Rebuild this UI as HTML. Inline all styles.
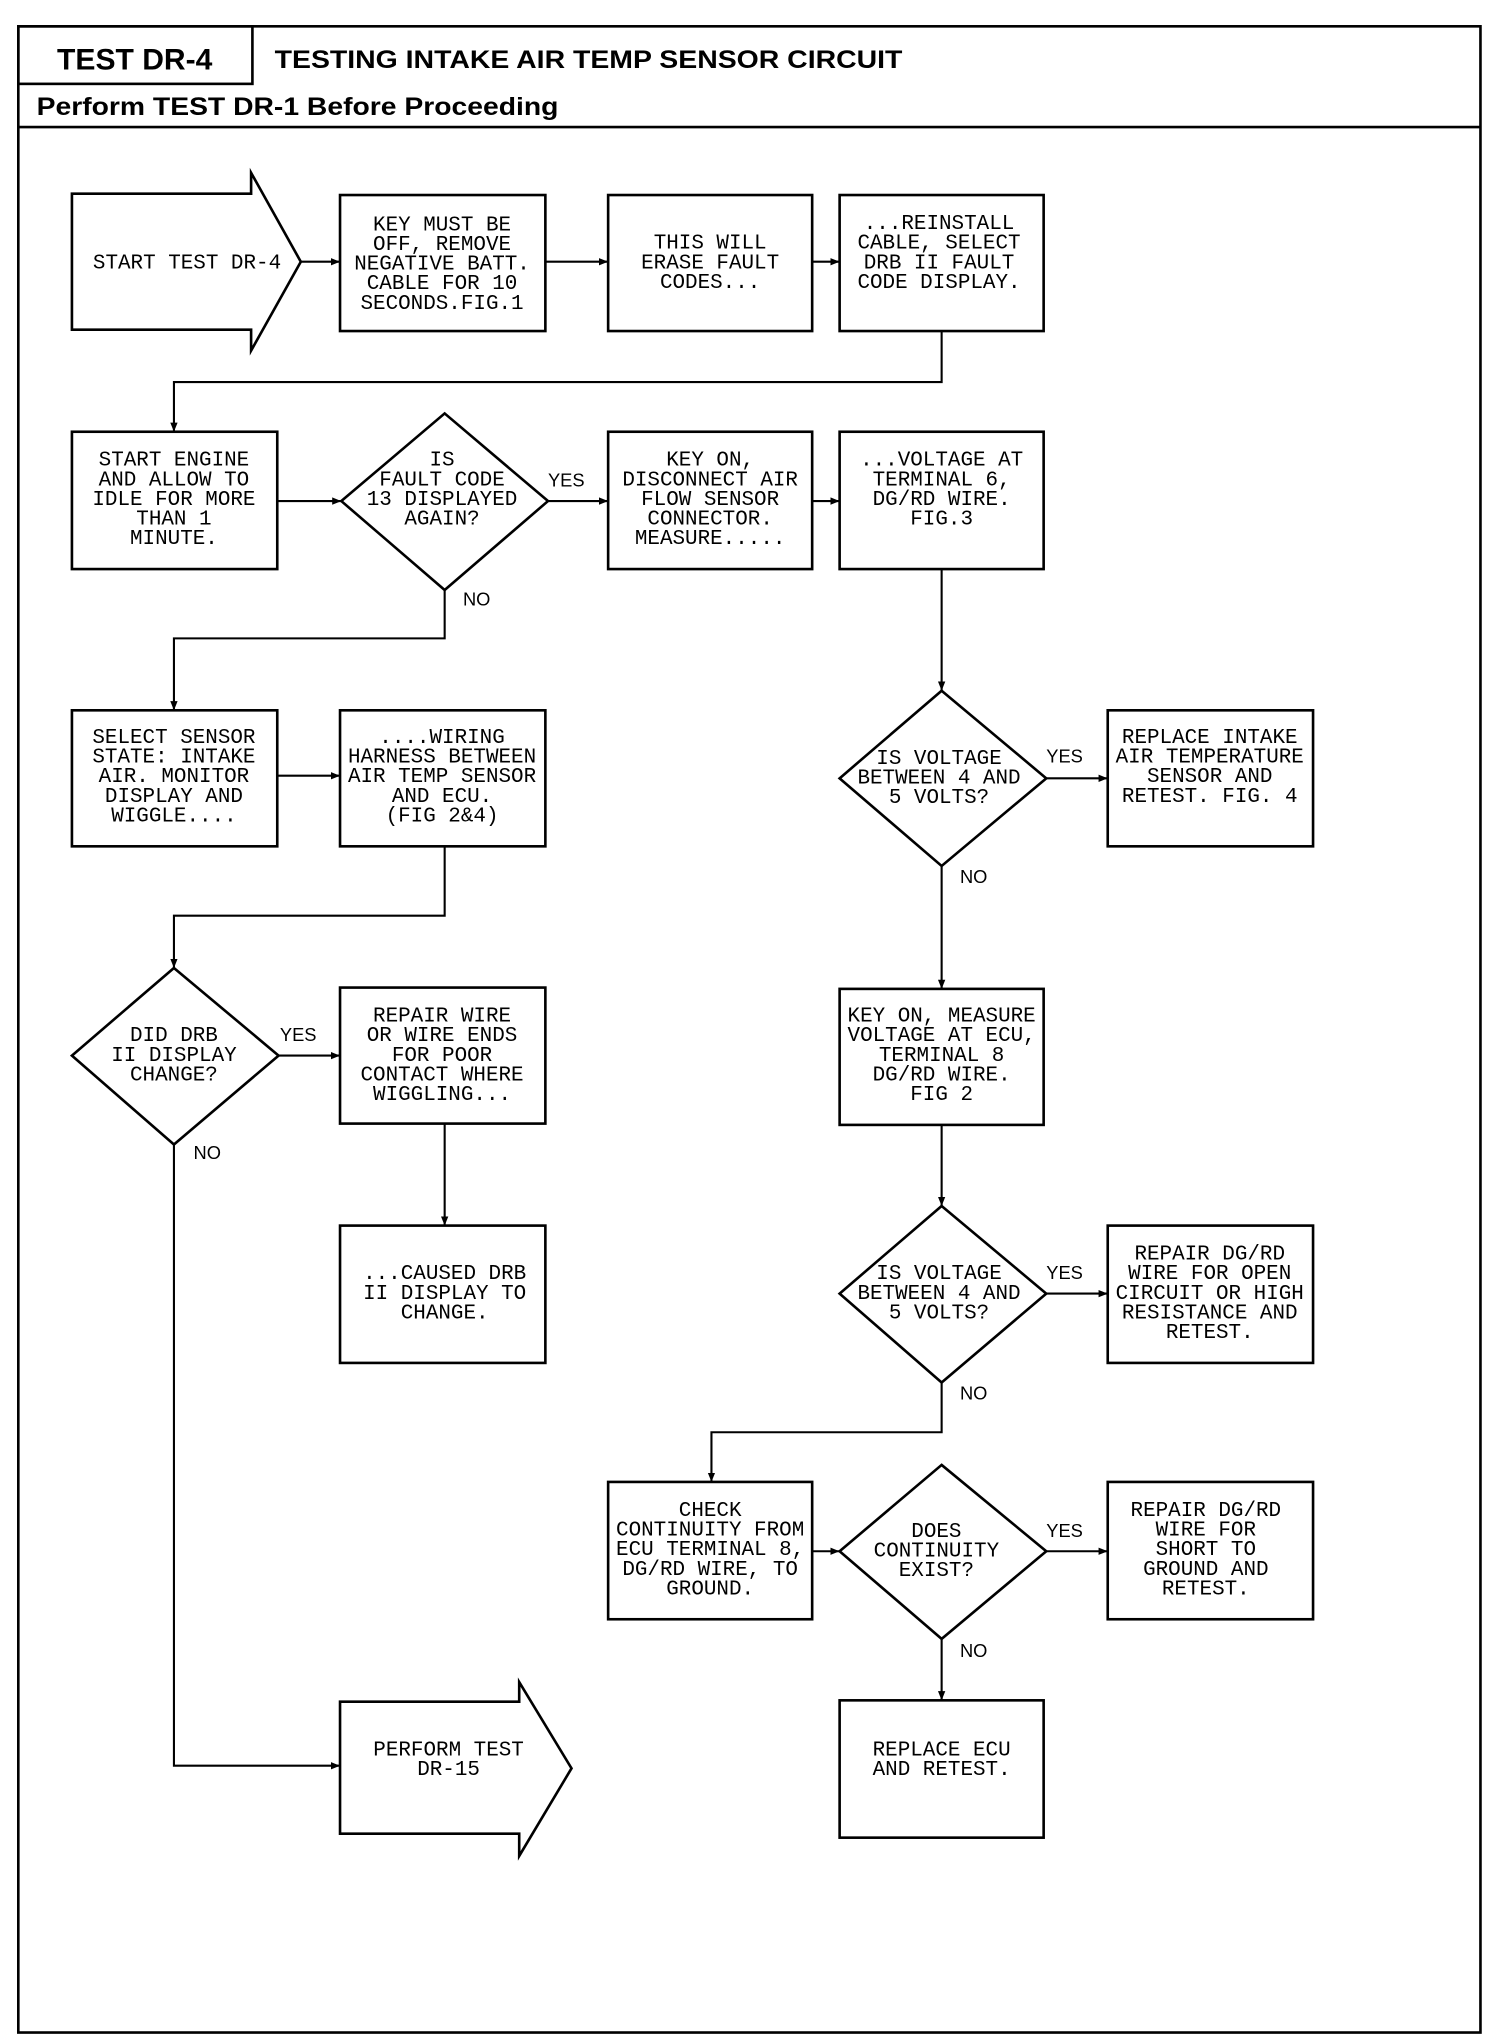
<!DOCTYPE html>
<html><head><meta charset="utf-8"><style>
html,body{margin:0;padding:0;background:#fff}
svg{display:block}
.t{font-family:"Liberation Mono",monospace;font-size:16px;text-anchor:middle;fill:#000}
.l{font-family:"Liberation Sans",sans-serif;font-size:14px;fill:#000}
</style></head><body>
<svg width="1504" height="2034" viewBox="0 0 1150 1555" xmlns="http://www.w3.org/2000/svg">
<defs><marker id="a" viewBox="0 0 10 10" refX="10" refY="5" markerWidth="7" markerHeight="7" orient="auto" markerUnits="userSpaceOnUse"><path d="M0,1 L10,5 L0,9 z" fill="#000"/></marker></defs>
<g fill="none" stroke="#000" stroke-width="2">
<rect x="14" y="20" width="1118" height="1534"/>
<line x1="14" y1="97" x2="1132" y2="97"/>
<rect x="14" y="20" width="179" height="44"/>
</g>
<text x="103" y="53" font-family="Liberation Sans" font-weight="bold" font-size="23" text-anchor="middle">TEST DR-4</text>
<text x="210" y="52" font-family="Liberation Sans" font-weight="bold" font-size="19" textLength="480" lengthAdjust="spacingAndGlyphs">TESTING INTAKE AIR TEMP SENSOR CIRCUIT</text>
<text x="28" y="88" font-family="Liberation Sans" font-weight="bold" font-size="19" textLength="399" lengthAdjust="spacingAndGlyphs">Perform TEST DR-1 Before Proceeding</text>

<g fill="none" stroke="#000" stroke-width="2">
<path d="M55,148 L192,148 L192,132 L230,200 L192,268 L192,252 L55,252 Z"/>
<rect x="260" y="149" width="157" height="104"/>
<rect x="465" y="149" width="156" height="104"/>
<rect x="642" y="149" width="156" height="104"/>
<rect x="55" y="330" width="157" height="105"/>
<path d="M340,316 L419,383 L340,451 L261,383 Z"/>
<rect x="465" y="330" width="156" height="105"/>
<rect x="642" y="330" width="156" height="105"/>
<rect x="55" y="543" width="157" height="104"/>
<rect x="260" y="543" width="157" height="104"/>
<path d="M133,740 L213,807 L133,875 L55,807 Z"/>
<rect x="260" y="755" width="157" height="104"/>
<rect x="260" y="937" width="157" height="105"/>
<path d="M260,1301 L397,1301 L397,1286 L437,1352 L397,1419 L397,1402 L260,1402 Z"/>
<path d="M720,528 L800,595 L720,662 L642,595 Z"/>
<rect x="847" y="543" width="157" height="104"/>
<rect x="642" y="756" width="156" height="104"/>
<path d="M720,922 L800,989 L720,1057 L642,989 Z"/>
<rect x="847" y="937" width="157" height="105"/>
<rect x="465" y="1133" width="156" height="105"/>
<path d="M720,1120 L800,1186 L720,1253 L642,1186 Z"/>
<rect x="847" y="1133" width="157" height="105"/>
<rect x="642" y="1300" width="156" height="105"/>
</g>
<g fill="none" stroke="#000" stroke-width="1.6" marker-end="url(#a)">
<path d="M230,200 L260,200"/>
<path d="M417,200 L465,200"/>
<path d="M621,200 L642,200"/>
<path d="M720,253 L720,292 L133,292 L133,330"/>
<path d="M212,383 L261,383"/>
<path d="M419,383 L465,383"/>
<path d="M621,383 L642,383"/>
<path d="M340,451 L340,488 L133,488 L133,543"/>
<path d="M212,593 L260,593"/>
<path d="M340,647 L340,700 L133,700 L133,740"/>
<path d="M213,807 L260,807"/>
<path d="M340,859 L340,937"/>
<path d="M133,875 L133,1350 L260,1350"/>
<path d="M720,435 L720,528"/>
<path d="M800,595 L847,595"/>
<path d="M720,662 L720,756"/>
<path d="M720,860 L720,922"/>
<path d="M800,989 L847,989"/>
<path d="M720,1057 L720,1095 L544,1095 L544,1133"/>
<path d="M621,1186 L642,1186"/>
<path d="M800,1186 L847,1186"/>
<path d="M720,1253 L720,1300"/>
</g>
<g class="l">
<text x="419" y="372">YES</text><text x="354" y="463">NO</text>
<text x="214" y="796">YES</text><text x="148" y="886">NO</text>
<text x="800" y="583">YES</text><text x="734" y="675">NO</text>
<text x="800" y="978">YES</text><text x="734" y="1070">NO</text>
<text x="800" y="1175">YES</text><text x="734" y="1267">NO</text>
</g>
<g class="t">
<text x="143" y="205">START TEST DR-4</text>
<text x="338" y="176">KEY MUST BE<tspan x="338" dy="15">OFF, REMOVE</tspan><tspan x="338" dy="15">NEGATIVE BATT.</tspan><tspan x="338" dy="15">CABLE FOR 10</tspan><tspan x="338" dy="15">SECONDS.FIG.1</tspan></text>
<text x="543" y="190">THIS WILL<tspan x="543" dy="15">ERASE FAULT</tspan><tspan x="543" dy="15">CODES...</tspan></text>
<text x="718" y="175">...REINSTALL<tspan x="718" dy="15">CABLE, SELECT</tspan><tspan x="718" dy="15">DRB II FAULT</tspan><tspan x="718" dy="15">CODE DISPLAY.</tspan></text>
<text x="133" y="356">START ENGINE<tspan x="133" dy="15">AND ALLOW TO</tspan><tspan x="133" dy="15">IDLE FOR MORE</tspan><tspan x="133" dy="15">THAN 1</tspan><tspan x="133" dy="15">MINUTE.</tspan></text>
<text x="338" y="356">IS<tspan x="338" dy="15">FAULT CODE</tspan><tspan x="338" dy="15">13 DISPLAYED</tspan><tspan x="338" dy="15">AGAIN?</tspan></text>
<text x="543" y="356">KEY ON,<tspan x="543" dy="15">DISCONNECT AIR</tspan><tspan x="543" dy="15">FLOW SENSOR</tspan><tspan x="543" dy="15">CONNECTOR.</tspan><tspan x="543" dy="15">MEASURE.....</tspan></text>
<text x="720" y="356">...VOLTAGE AT<tspan x="720" dy="15">TERMINAL 6,</tspan><tspan x="720" dy="15">DG/RD WIRE.</tspan><tspan x="720" dy="15">FIG.3</tspan></text>
<text x="133" y="568">SELECT SENSOR<tspan x="133" dy="15">STATE: INTAKE</tspan><tspan x="133" dy="15">AIR. MONITOR</tspan><tspan x="133" dy="15">DISPLAY AND</tspan><tspan x="133" dy="15">WIGGLE....</tspan></text>
<text x="338" y="568">....WIRING<tspan x="338" dy="15">HARNESS BETWEEN</tspan><tspan x="338" dy="15">AIR TEMP SENSOR</tspan><tspan x="338" dy="15">AND ECU.</tspan><tspan x="338" dy="15">(FIG 2&amp;4)</tspan></text>
<text x="133" y="796">DID DRB<tspan x="133" dy="15">II DISPLAY</tspan><tspan x="133" dy="15">CHANGE?</tspan></text>
<text x="338" y="781">REPAIR WIRE<tspan x="338" dy="15">OR WIRE ENDS</tspan><tspan x="338" dy="15">FOR POOR</tspan><tspan x="338" dy="15">CONTACT WHERE</tspan><tspan x="338" dy="15">WIGGLING...</tspan></text>
<text x="340" y="978">...CAUSED DRB<tspan x="340" dy="15">II DISPLAY TO</tspan><tspan x="340" dy="15">CHANGE.</tspan></text>
<text x="343" y="1342">PERFORM TEST<tspan x="343" dy="15">DR-15</tspan></text>
<text x="718" y="584">IS VOLTAGE<tspan x="718" dy="15">BETWEEN 4 AND</tspan><tspan x="718" dy="15">5 VOLTS?</tspan></text>
<text x="925" y="568">REPLACE INTAKE<tspan x="925" dy="15">AIR TEMPERATURE</tspan><tspan x="925" dy="15">SENSOR AND</tspan><tspan x="925" dy="15">RETEST. FIG. 4</tspan></text>
<text x="720" y="781">KEY ON, MEASURE<tspan x="720" dy="15">VOLTAGE AT ECU,</tspan><tspan x="720" dy="15">TERMINAL 8</tspan><tspan x="720" dy="15">DG/RD WIRE.</tspan><tspan x="720" dy="15">FIG 2</tspan></text>
<text x="718" y="978">IS VOLTAGE<tspan x="718" dy="15">BETWEEN 4 AND</tspan><tspan x="718" dy="15">5 VOLTS?</tspan></text>
<text x="925" y="963">REPAIR DG/RD<tspan x="925" dy="15">WIRE FOR OPEN</tspan><tspan x="925" dy="15">CIRCUIT OR HIGH</tspan><tspan x="925" dy="15">RESISTANCE AND</tspan><tspan x="925" dy="15">RETEST.</tspan></text>
<text x="543" y="1159">CHECK<tspan x="543" dy="15">CONTINUITY FROM</tspan><tspan x="543" dy="15">ECU TERMINAL 8,</tspan><tspan x="543" dy="15">DG/RD WIRE, TO</tspan><tspan x="543" dy="15">GROUND.</tspan></text>
<text x="716" y="1175">DOES<tspan x="716" dy="15">CONTINUITY</tspan><tspan x="716" dy="15">EXIST?</tspan></text>
<text x="922" y="1159">REPAIR DG/RD<tspan x="922" dy="15">WIRE FOR</tspan><tspan x="922" dy="15">SHORT TO</tspan><tspan x="922" dy="15">GROUND AND</tspan><tspan x="922" dy="15">RETEST.</tspan></text>
<text x="720" y="1342">REPLACE ECU<tspan x="720" dy="15">AND RETEST.</tspan></text>
</g>
</svg>
</body></html>
